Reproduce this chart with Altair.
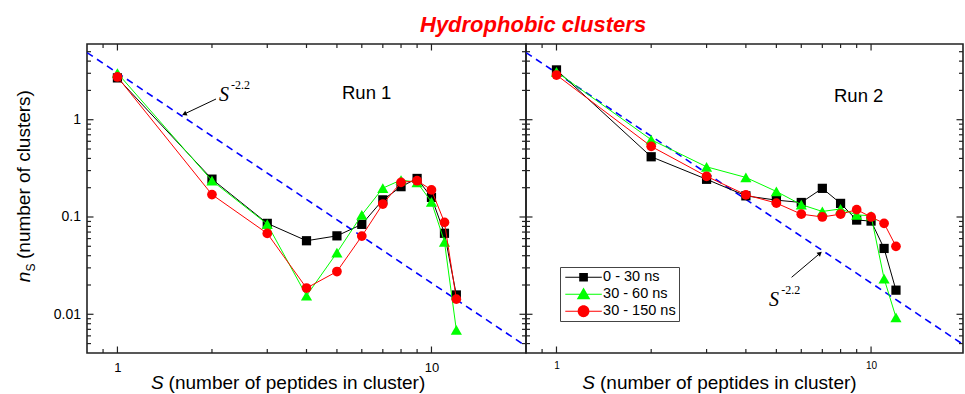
import altair as alt
import pandas as pd

# cluster sizes S (number of peptides in a cluster)
SIZES = [1, 2, 3, 4, 5, 6, 7, 8, 9, 10, 11, 12]
SERIES = ["0 - 30 ns", "30 - 60 ns", "30 - 150 ns"]
COLORS = ["#000000", "#00ff00", "#ff0000"]
SHAPES = ["square", "triangle-up", "circle"]
MARK_SIZES = [85, 125, 95]

# n_S for Run 1
RUN1_0_30 = [2.69, 0.245, 0.086, 0.057, 0.064, 0.084, 0.150, 0.205, 0.249, 0.159, 0.068, 0.0158]
RUN1_30_60 = [3.02, 0.236, 0.0845, 0.0155, 0.043, 0.105, 0.198, 0.240, 0.227, 0.143, 0.0556, 0.0069]
RUN1_30_150 = [2.75, 0.170, 0.0678, 0.0186, 0.0275, 0.0636, 0.136, 0.227, 0.236, 0.190, 0.088, 0.0143]

# n_S for Run 2
RUN2_0_30 = [3.25, 0.416, 0.244, 0.165, 0.149, 0.141, 0.197, 0.138, 0.093, 0.0908, 0.0475, 0.0177]
RUN2_30_60 = [3.10, 0.623, 0.328, 0.255, 0.183, 0.134, 0.114, 0.121, 0.105, 0.103, 0.0233, 0.0093]
RUN2_30_150 = [2.88, 0.532, 0.262, 0.169, 0.139, 0.107, 0.100, 0.107, 0.119, 0.100, 0.086, 0.0499]

# S^-2.2 reference line (end points)
POWER_S = [0.8, 20]
POWER_N = [4.9, 0.0047]

# frame tick values
X_MAJOR = [1, 10]
X_MINOR = [0.9, 2, 3, 4, 5, 6, 7, 8, 9]
Y_MAJOR = [0.01, 0.1, 1]
Y_MINOR = [0.005, 0.006, 0.007, 0.008, 0.009,
           0.02, 0.03, 0.04, 0.05, 0.06, 0.07, 0.08, 0.09,
           0.2, 0.3, 0.4, 0.5, 0.6, 0.7, 0.8, 0.9,
           2, 3, 4, 5]

Y_DOMAIN = [0.004, 6]
SANS = "Liberation Sans"
SERIF = "Liberation Serif"
FRAME = "#222222"
H = 309

# legend glyphs: a line stub with the marker on it (custom symbol paths)
STUB = "M-0.71,-0.08H4.51V0.08H-0.71Z"
LEGEND_PATHS = [
    STUB + "M1.28,-0.62H2.52V0.62H1.28Z",
    STUB + "M1.9,-0.97L2.87,0.72H0.93Z",
    STUB + "M2.74,0A0.84,0.84,0,1,1,1.06,0A0.84,0.84,0,1,1,2.74,0Z",
]

one = pd.DataFrame({"k": [0]})


def long_table(cols):
    rows = []
    for name, vals in zip(SERIES, cols):
        for s, v in zip(SIZES, vals):
            rows.append({"S": s, "n": v, "series": name})
    return pd.DataFrame(rows)


def text(t, x, y, size, font=SANS, style="normal", weight="normal",
         color="black", angle=0, align="left"):
    return alt.Chart(one).mark_text(
        text=t, font=font, fontSize=size, fontStyle=style, fontWeight=weight,
        color=color, angle=angle, align=align, baseline="alphabetic",
    ).encode(x=alt.value(x), y=alt.value(y))


def arrow(x1, y1, x2, y2, angle):
    line = alt.Chart(one).mark_rule(color="black", strokeWidth=1).encode(
        x=alt.value(x1), y=alt.value(y1), x2=alt.value(x2), y2=alt.value(y2))
    head = alt.Chart(one).mark_point(
        shape="triangle-up", filled=True, size=28, color="black", opacity=1, angle=angle
    ).encode(x=alt.value(x2), y=alt.value(y2))
    return [line, head]


def panel(cols, xdom, width, xaxis, yaxis, extras, legend=False):
    xs = alt.Scale(type="log", domain=xdom, nice=False)
    ys = alt.Scale(type="log", domain=Y_DOMAIN, nice=False)
    xe = lambda f: alt.X(f + ":Q", scale=xs, axis=xaxis)
    ye = lambda f: alt.Y(f + ":Q", scale=ys, axis=yaxis)

    layers = []
    # dashed power law
    pl = pd.DataFrame({"S": POWER_S, "n": POWER_N})
    layers.append(alt.Chart(pl).mark_line(
        color="#0000ff", strokeDash=[7, 5], strokeWidth=1.6, clip=True
    ).encode(x=xe("S"), y=ye("n")))

    df = long_table(cols)
    for name, color, shape, msize in zip(SERIES, COLORS, SHAPES, MARK_SIZES):
        sub = df[df.series == name]
        layers.append(alt.Chart(sub).mark_line(color=color, strokeWidth=1).encode(
            x=xe("S"), y=ye("n")))
        layers.append(alt.Chart(sub).mark_point(
            filled=True, shape=shape, size=msize, color=color, opacity=1
        ).encode(x=xe("S"), y=ye("n")))

    # inward ticks on all four sides
    for vals, L in ((X_MAJOR, 6.5), (X_MINOR, 4)):
        d = pd.DataFrame({"v": vals})
        for yv in (L / 2, H - L / 2):
            layers.append(alt.Chart(d).mark_tick(
                orient="vertical", size=L, thickness=1.2, color=FRAME, opacity=1
            ).encode(x=xe("v"), y=alt.value(yv)))
    for vals, L in ((Y_MAJOR, 6.5), (Y_MINOR, 4)):
        d = pd.DataFrame({"v": vals})
        for xv in (L / 2, width - L / 2):
            layers.append(alt.Chart(d).mark_tick(
                orient="horizontal", size=L, thickness=1.2, color=FRAME, opacity=1
            ).encode(y=ye("v"), x=alt.value(xv)))

    if legend:
        leg = alt.Legend(
            title=None, orient="none", legendX=34, legendY=223,
            labelFont=SANS, labelFontSize=14.5, labelColor="black",
            labelOffset=25.6, symbolSize=196, symbolStrokeWidth=0,
            symbolOpacity=1, padding=3, rowPadding=2,
            strokeColor="#444444", fillColor="#ffffff",
        )
        src = pd.DataFrame({"S": [1, 1, 1], "n": [1, 1, 1], "series": SERIES})
        layers.append(alt.Chart(src).transform_filter("false").mark_point(
            filled=True, opacity=1
        ).encode(
            x=xe("S"), y=ye("n"),
            color=alt.Color("series:N", scale=alt.Scale(domain=SERIES, range=COLORS), legend=leg),
            shape=alt.Shape("series:N", scale=alt.Scale(domain=SERIES, range=LEGEND_PATHS), legend=leg),
        ))

    layers.extend(extras)
    return alt.layer(*layers).properties(width=width, height=H)


def xaxis(fs, pad):
    return alt.Axis(values=X_MAJOR, format="~g", labelFontSize=fs, labelPadding=pad,
                    labelFont=SANS, labelColor="black", ticks=False, tickSize=0,
                    domain=False, grid=False, title=None)


yaxis_left = alt.Axis(values=Y_MAJOR, format="~g", labelFontSize=14, labelPadding=6.5,
                      labelFont=SANS, labelColor="black", ticks=False, tickSize=0,
                      domain=False, grid=False, title=None)

W1, W2 = 439, 437

left_extras = [
    text("Hydrophobic clusters", 333, -12, 22, style="italic", weight="bold", color="#ff0000"),
    text("Run 1", 255, 55, 18.5),
    text("S", 132, 56.5, 20, font=SERIF, style="italic"),
    text("-2.2", 144, 44.5, 12, font=SERIF),
    *arrow(129, 55, 97.3, 70, 245),
    text("S", 64, 345, 19, style="italic"),
    text("(number of peptides in cluster)", 81.6, 345, 19),
    text("n", -57.2, 238.3, 19, style="italic", angle=270),
    text("S", -52, 227.5, 12, angle=270),
    text("(number of clusters)", -57.2, 215, 19, angle=270),
]

right_extras = [
    text("Run 2", 308, 58, 18.5),
    text("S", 243, 261.7, 20, font=SERIF, style="italic"),
    text("-2.2", 255.3, 250, 12, font=SERIF),
    *arrow(265.6, 233.3, 294, 209.3, 50),
    text("S", 56.3, 345, 19, style="italic"),
    text("(number of peptides in cluster)", 74, 345, 19),
]

left = panel([RUN1_0_30, RUN1_30_60, RUN1_30_150], [0.8, 20], W1,
             xaxis(13, 8), yaxis_left, left_extras)
right = panel([RUN2_0_30, RUN2_30_60, RUN2_30_150], [0.8, 19.6], W2,
              xaxis(10, 7.5), None, right_extras, legend=True)

chart = alt.hconcat(left, right, spacing=0, bounds="flush").resolve_legend(
    color="independent", shape="independent"
).properties(
    padding={"left": 13, "top": 13, "right": 0, "bottom": 0},
    background="white",
).configure_view(stroke=FRAME, strokeWidth=1.6)

chart.save("out.html", embed_options={"renderer": "svg", "actions": False})
